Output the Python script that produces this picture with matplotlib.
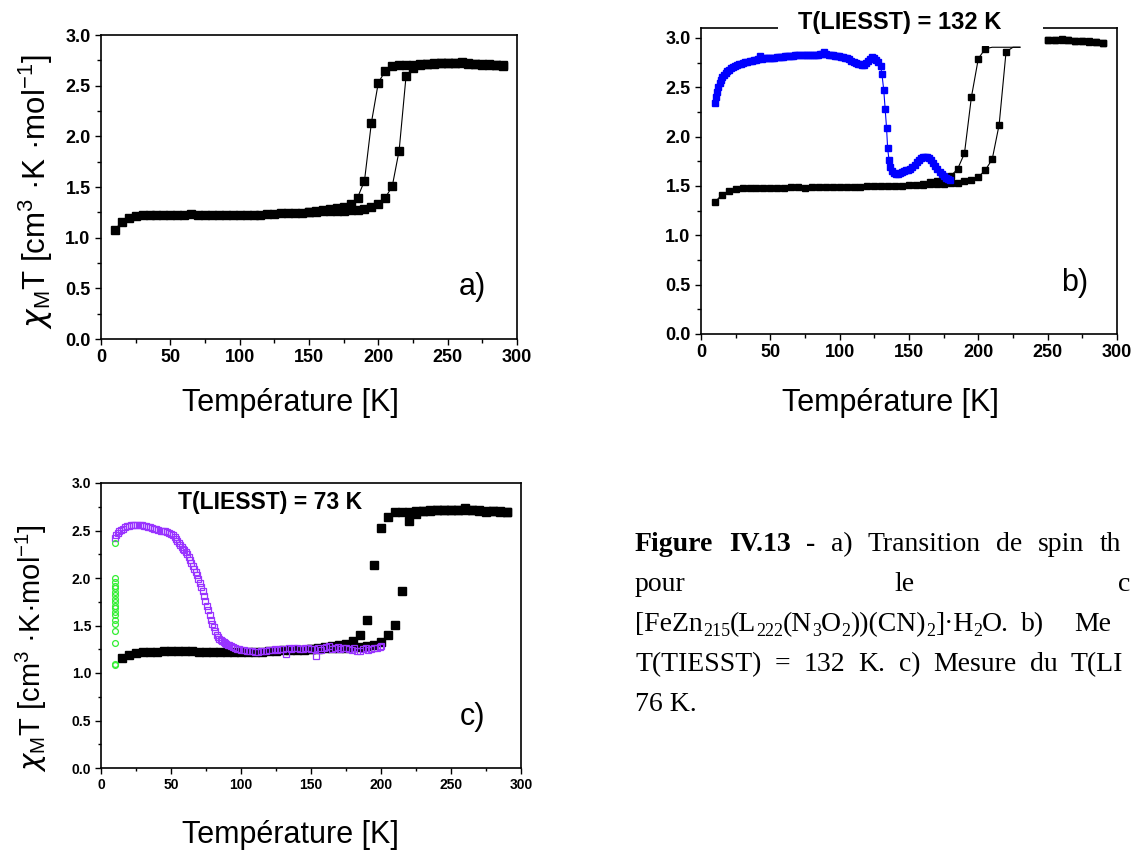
"""
Spin transition chi_M*T vs temperature, three panels (a, b, c) plus caption.
"""

import matplotlib
matplotlib.use("Agg")
import matplotlib.pyplot as plt
from matplotlib.patches import Rectangle
from matplotlib.ticker import MultipleLocator, FormatStrFormatter
import numpy as np

plt.rcParams.update({
    "font.family": "Liberation Sans",
    "font.weight": "bold",
    "mathtext.fontset": "custom",
    "mathtext.rm": "Liberation Sans:weight=normal",
    "mathtext.it": "DejaVu Sans:style=italic:weight=normal",
    "mathtext.bf": "Liberation Sans:bold",
})

W, H = 1133, 852  # output size in pixels

# --- Panel a / c : thermal spin transition (black squares) ---
T_HEAT = np.arange(10, 295, 5)
CHI_HEAT = [1.076, 1.158, 1.19, 1.21, 1.22, 1.222, 1.225, 1.227, 1.227, 1.228,
            1.228, 1.23, 1.225, 1.222, 1.225, 1.225, 1.222, 1.222, 1.222, 1.222,
            1.225, 1.225, 1.23, 1.235, 1.24, 1.243, 1.245, 1.247, 1.25, 1.255,
            1.26, 1.265, 1.265, 1.268, 1.27, 1.275, 1.285, 1.30, 1.33, 1.395,
            1.505, 1.86, 2.595, 2.675, 2.705, 2.715, 2.72, 2.72, 2.72, 2.72,
            2.735, 2.72, 2.715, 2.71, 2.71, 2.705, 2.70]
T_COOL = np.arange(290, 145, -5)
CHI_COOL = [2.69, 2.70, 2.705, 2.70, 2.71, 2.715, 2.72, 2.72, 2.72, 2.72,
            2.715, 2.71, 2.71, 2.705, 2.70, 2.70, 2.69, 2.645, 2.53, 2.135,
            1.56, 1.395, 1.335, 1.305, 1.29, 1.28, 1.27, 1.26, 1.255]

# --- Panel b : thermal transition (black) and LIESST relaxation (blue) ---
CHI_B_HEAT = [1.336, 1.41, 1.45, 1.465, 1.475, 1.48, 1.48, 1.482, 1.482, 1.483,
              1.483, 1.485, 1.485, 1.484, 1.486, 1.486, 1.487, 1.488, 1.49, 1.49,
              1.492, 1.494, 1.495, 1.497, 1.498, 1.50, 1.50, 1.502, 1.505, 1.508,
              1.512, 1.516, 1.52, 1.523, 1.526, 1.53, 1.545, 1.56, 1.59, 1.66,
              1.77, 2.12, 2.86, 2.94, 2.955, 2.965, 2.97, 2.97, 2.975, 2.975,
              2.99, 2.975, 2.97, 2.965, 2.962, 2.96, 2.95]
T_B_COOL = np.arange(290, 155, -5)
CHI_B_COOL = [2.95, 2.96, 2.965, 2.97, 2.97, 2.975, 2.98, 2.98, 2.975, 2.97,
              2.965, 2.96, 2.955, 2.95, 2.945, 2.935, 2.92, 2.89, 2.79, 2.40,
              1.83, 1.67, 1.60, 1.57, 1.55, 1.535, 1.52]

T_BLUE = [10.0, 10.8, 11.6, 12.5, 13.5, 14.5, 15.5, 16.6, 17.8, 19.0,
          20.3, 21.6, 23.0, 24.5, 26.0, 27.5, 29.0, 30.5, 32.0, 33.5,
          35.0, 36.5, 38.0, 39.5, 41.0, 42.5, 44.0, 45.5, 47.0, 48.5,
          50.0, 51.5, 53.0, 54.5, 56.0, 57.5, 59.0, 60.5, 62.0, 63.5,
          65.0, 66.5, 68.0, 69.5, 71.0, 72.5, 74.0, 75.5, 77.0, 78.5,
          80.0, 81.5, 83.0, 84.5, 86.0, 87.5, 89.0, 90.5, 92.0, 93.5,
          95.0, 96.5, 98.0, 99.5, 101.0, 102.5, 104.0, 105.5, 107.0, 108.5,
          110.0, 111.5, 113.0, 114.5, 116.0, 117.5, 119.0, 120.5, 122.0, 123.5,
          125.0, 126.5, 128.0, 129.5, 130.5, 131.8, 132.8, 133.8, 134.6, 135.6,
          136.6, 137.8, 139.0, 140.5, 142.0, 143.5, 145.0, 146.5, 148.0, 149.5,
          151.0, 152.5, 154.0, 155.5, 157.0, 158.5, 160.0, 161.5, 163.0, 164.5,
          166.0, 167.5, 169.0, 170.5, 172.0, 173.5, 175.0, 176.5, 178.0, 179.5]
CHI_BLUE = [2.34, 2.40, 2.45, 2.50, 2.54, 2.57, 2.60, 2.62, 2.645, 2.66,
            2.675, 2.69, 2.70, 2.715, 2.725, 2.735, 2.74, 2.75, 2.755, 2.76,
            2.765, 2.77, 2.775, 2.78, 2.785, 2.82, 2.79, 2.795, 2.795, 2.80,
            2.80, 2.80, 2.80, 2.805, 2.81, 2.81, 2.81, 2.815, 2.815, 2.82,
            2.82, 2.82, 2.825, 2.825, 2.825, 2.825, 2.83, 2.83, 2.83, 2.83,
            2.83, 2.83, 2.83, 2.83, 2.835, 2.84, 2.86, 2.835, 2.83, 2.83,
            2.825, 2.82, 2.82, 2.815, 2.81, 2.805, 2.80, 2.795, 2.785, 2.77,
            2.76, 2.75, 2.74, 2.735, 2.73, 2.73, 2.75, 2.77, 2.79, 2.81,
            2.80, 2.78, 2.76, 2.72, 2.63, 2.47, 2.28, 2.09, 1.88, 1.76,
            1.69, 1.65, 1.63, 1.625, 1.625, 1.63, 1.64, 1.65, 1.66, 1.665,
            1.675, 1.69, 1.71, 1.74, 1.765, 1.78, 1.79, 1.795, 1.795, 1.78,
            1.76, 1.73, 1.70, 1.67, 1.64, 1.62, 1.60, 1.585, 1.57, 1.56]

# --- Panel c : LIESST relaxation (purple) and irradiation at 10 K (green) ---
T_PURPLE = [10.0, 11.0, 12.0, 13.0, 14.0, 15.5, 17.0, 18.5, 20.0, 21.5,
            23.0, 24.5, 26.0, 27.5, 29.0, 30.5, 32.0, 33.5, 35.0, 36.5,
            38.0, 39.5, 41.0, 42.5, 44.0, 45.5, 47.0, 48.5, 50.0, 51.5,
            52.5, 53.5, 54.5, 55.5, 56.5, 57.5, 58.5, 59.5, 60.5, 61.5,
            62.5, 63.5, 64.5, 65.5, 66.5, 67.5, 68.5, 69.5, 70.5, 71.5,
            72.5, 73.5, 74.5, 75.5, 76.5, 77.5, 78.5, 79.5, 80.5, 81.5,
            82.5, 83.5, 84.5, 85.5, 86.5, 87.5, 88.5, 89.5, 90.5, 91.5,
            92.5, 94.0, 95.5, 97.0, 98.5, 100.0, 102.0, 104.0, 106.0, 108.0,
            110.0, 112.0, 114.0, 116.0, 118.0, 120.0, 122.0, 124.0, 126.0, 128.0,
            130.0, 132.0, 134.0, 136.0, 138.0, 140.0, 142.0, 144.0, 146.0, 148.0,
            150.0, 152.0, 153.5, 155.0, 157.0, 159.0, 161.0, 163.0, 165.0, 167.0,
            169.0, 171.0, 173.0, 175.0, 177.0, 179.0, 181.0, 183.0, 185.0, 187.0,
            189.0, 191.0, 193.0, 195.0, 197.0, 199.0, 200.0]
CHI_PURPLE = [2.42, 2.45, 2.47, 2.49, 2.51, 2.52, 2.535, 2.545, 2.55, 2.555,
              2.56, 2.56, 2.56, 2.555, 2.555, 2.55, 2.545, 2.54, 2.535, 2.53,
              2.52, 2.515, 2.51, 2.50, 2.495, 2.49, 2.48, 2.47, 2.46, 2.45,
              2.43, 2.41, 2.39, 2.37, 2.35, 2.33, 2.31, 2.29, 2.27, 2.25,
              2.22, 2.19, 2.16, 2.13, 2.10, 2.065, 2.03, 1.99, 1.95, 1.91,
              1.86, 1.81, 1.76, 1.71, 1.66, 1.61, 1.56, 1.52, 1.48, 1.44,
              1.40, 1.375, 1.36, 1.35, 1.34, 1.325, 1.32, 1.31, 1.30, 1.29,
              1.28, 1.27, 1.26, 1.255, 1.25, 1.245, 1.24, 1.235, 1.23, 1.23,
              1.225, 1.225, 1.23, 1.23, 1.235, 1.24, 1.245, 1.25, 1.245, 1.25,
              1.255, 1.20, 1.26, 1.255, 1.265, 1.26, 1.255, 1.25, 1.265, 1.26,
              1.255, 1.25, 1.18, 1.26, 1.24, 1.265, 1.27, 1.28, 1.25, 1.26,
              1.27, 1.25, 1.26, 1.265, 1.255, 1.245, 1.26, 1.235, 1.23, 1.25,
              1.26, 1.245, 1.255, 1.265, 1.26, 1.27, 1.28]
T_GREEN = [10] * 19
CHI_GREEN = [1.08, 1.09, 1.32, 1.44, 1.52, 1.56, 1.61, 1.64, 1.68, 1.71,
             1.75, 1.78, 1.82, 1.85, 1.89, 1.92, 1.96, 1.995, 2.365]

MASK_LEVEL = 2.915  # lower edge of the white title box in panel b

BLUE = "#0000FF"
PURPLE = "#9933FF"
GREEN = "#33EE33"

YLABEL_A = "$\\chi$$_\\mathregular{M}$T [cm$^\\mathregular{3}$ ·K ·mol$^\\mathregular{-1}$]"
YLABEL_C = "$\\chi$$_\\mathregular{M}$T [cm$^\\mathregular{3}$ ·K·mol$^\\mathregular{-1}$]"
XLABEL = "Température [K]"

# caption pieces (justified lines, cut by the right edge of the page)
CAP_LINE1 = [("Figure", "bold"), ("IV.13", "bold"), ("-", "bold"), ("a)", "normal"),
             ("Transition", "normal"), ("de", "normal"), ("spin", "normal"), ("th", "normal")]
CAP_LINE2 = ["pour", "le", "c"]
CAP_FORMULA = [("[FeZn", False), ("215", True), ("(L", False), ("222", True),
               ("(N", False), ("3", True), ("O", False), ("2", True),
               ("))(CN)", False), ("2", True), ("]·H", False), ("2", True), ("O.", False)]
CAP_LINE3_END = ["b)", "Me"]
CAP_LINE4 = ["T(TIESST)", "=", "132", "K.", "c)", "Mesure", "du", "T(LI"]
CAP_LINE5 = "76 K."


def px_rect(left, right, top, bottom):
    """Axes rectangle from pixel edges (origin top-left)."""
    return [left / W, 1 - bottom / H, (right - left) / W, (bottom - top) / H]


def fx(x):
    return x / W


def fy(y):
    return 1 - y / H


def style_axes(ax, tick_size, ytop=3.0, major_len=4.5, minor_len=3.0):
    ax.set_xlim(0, 300)
    ax.set_ylim(0, ytop)
    ax.xaxis.set_major_locator(MultipleLocator(50))
    ax.xaxis.set_minor_locator(MultipleLocator(25))
    ax.yaxis.set_major_locator(MultipleLocator(0.5))
    ax.yaxis.set_minor_locator(MultipleLocator(0.25))
    ax.yaxis.set_major_formatter(FormatStrFormatter("%.1f"))
    ax.tick_params(which="both", direction="out", top=False, right=False,
                   width=1.0, labelsize=tick_size, pad=3)
    ax.tick_params(which="major", length=major_len)
    ax.tick_params(which="minor", length=minor_len)
    for s in ax.spines.values():
        s.set_linewidth(1.2)


fig = plt.figure(figsize=(W / 100, H / 100), dpi=100)

# ---------------- panel a ----------------
ax_a = fig.add_axes(px_rect(101, 517, 35, 339))
style_axes(ax_a, 13)
ax_a.plot(T_HEAT, CHI_HEAT, "-s", color="black", lw=0.8, ms=5.5)
ax_a.plot(T_COOL, CHI_COOL, "-s", color="black", lw=0.8, ms=5.5)
ax_a.text(268, 0.51, "a)", fontsize=22, fontweight="normal", ha="center", va="center")

# ---------------- panel b ----------------
ax_b = fig.add_axes(px_rect(701, 1117, 28, 334))
style_axes(ax_b, 13, ytop=3.1)
t_bh = np.asarray(T_HEAT)
c_bh = np.asarray(CHI_B_HEAT)
t_bc = np.asarray(T_B_COOL)
c_bc = np.asarray(CHI_B_COOL)
for t, c in ((t_bh, c_bh), (t_bc, c_bc)):
    low = t <= 230
    ax_b.plot(t[low], np.minimum(c[low], MASK_LEVEL - 0.01), "-", color="black", lw=0.8)
    vis = (t >= 250) | (c < MASK_LEVEL - 0.02)
    ax_b.plot(t[vis], c[vis], "s", color="black", ms=5)
ax_b.plot(T_BLUE, CHI_BLUE, "-s", color=BLUE, lw=0.8, ms=4.5)
# white title box over the top of the frame
ax_b.add_patch(Rectangle((55.5, MASK_LEVEL), 191, 0.6, facecolor="white",
                         edgecolor="none", clip_on=False, zorder=5))
fig.text(fx(900), fy(23), "T(LIESST) = 132 K", fontsize=17, fontweight="bold",
         ha="center", va="center", zorder=6)
ax_b.text(269.5, 0.52, "b)", fontsize=22, fontweight="normal", ha="center", va="center")

# ---------------- panel c ----------------
ax_c = fig.add_axes(px_rect(101, 521, 483, 768))
style_axes(ax_c, 10, major_len=4, minor_len=2.5)
ax_c.plot(T_HEAT[1:], CHI_HEAT[1:], "s", color="black", ms=5.5)
ax_c.plot(T_COOL, CHI_COOL, "s", color="black", ms=5.5)
ax_c.plot(T_PURPLE, CHI_PURPLE, "s", mfc="none", mec=PURPLE, mew=0.9, ms=4.2)
ax_c.plot(T_GREEN, CHI_GREEN, "o", mfc="none", mec=GREEN, mew=0.9, ms=4.2)
ax_c.text(121, 2.80, "T(LIESST) = 73 K", fontsize=16.5, fontweight="bold",
          ha="center", va="center")
ax_c.text(265.6, 0.54, "c)", fontsize=22, fontweight="normal", ha="center", va="center")

# ---------------- axis labels ----------------
for x, y in ((290, 403), (890, 403), (290, 835)):
    fig.text(fx(x), fy(y), XLABEL, fontsize=22, fontweight="normal",
             ha="center", va="center")
fig.text(fx(36), fy(192), YLABEL_A, fontsize=22.5, fontweight="normal",
         rotation=90, ha="center", va="center")
fig.text(fx(31), fy(648), YLABEL_C, fontsize=21, fontweight="normal",
         rotation=90, ha="center", va="center")

# ---------------- caption ----------------
renderer = fig.canvas.get_renderer()
CAP_SIZE = 20
CAP_X0 = 635
BASE = [551, 591, 631, 671, 711]


def cap_text(x, y, s, weight="normal", size=CAP_SIZE):
    return fig.text(fx(x), fy(y), s, family="Liberation Serif", fontsize=size,
                    fontweight=weight, va="baseline")


def justify(words, y, x_last):
    """Spread the words so the last one starts at x_last."""
    texts = [cap_text(CAP_X0, y, w, wt) for w, wt in words]
    widths = [t.get_window_extent(renderer).width for t in texts]
    gap = (x_last - CAP_X0 - sum(widths[:-1])) / (len(texts) - 1)
    x = CAP_X0
    for t, w in zip(texts, widths):
        t.set_x(fx(x))
        x += w + gap


justify(CAP_LINE1, BASE[0], 1100)
for x, word in zip((CAP_X0, 894, 1118), CAP_LINE2):
    cap_text(x, BASE[1], word)

x = CAP_X0
for piece, sub in CAP_FORMULA:
    if sub:
        t = cap_text(x, BASE[2] + 5, piece, size=CAP_SIZE * 0.65)
    else:
        t = cap_text(x, BASE[2], piece)
    x += t.get_window_extent(renderer).width
for x, word in zip((1021, 1074), CAP_LINE3_END):
    cap_text(x, BASE[2], word)

justify([(w, "normal") for w in CAP_LINE4], BASE[3], 1071)
cap_text(CAP_X0, BASE[4], CAP_LINE5)

fig.savefig("out.png", dpi=100)
plt.close(fig)
